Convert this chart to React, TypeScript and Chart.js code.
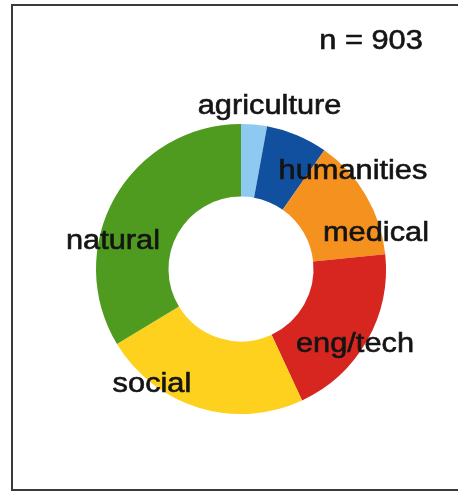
import React, { useEffect, useRef } from "react";
import { Chart, registerables } from "chart.js";

Chart.register(...registerables);

const categories = ["agriculture", "humanities", "medical", "eng/tech", "social", "natural"];
const counts = [26, 62, 123, 178, 210, 304];
const colors = ["#8ec9f1", "#11509f", "#f4911f", "#d6261f", "#fdd11d", "#4f9b1f"];

// label offsets relative to the ring centre, in units of the outer radius
const labelOffsets: [number, number][] = [
  [0.197, -1.069],
  [0.772, -0.621],
  [0.931, -0.193],
  [0.786, 0.572],
  [-0.614, 0.848],
  [-0.883, -0.138],
];

const FONT = '27px "Liberation Sans", Arial, Helvetica, sans-serif';
const XSCALE = 1.14;

function drawText(ctx: CanvasRenderingContext2D, text: string, x: number, y: number) {
  ctx.save();
  ctx.translate(x, y);
  ctx.scale(XSCALE, 1);
  ctx.fillText(text, 0, 0);
  ctx.strokeText(text, 0, 0);
  ctx.restore();
}

const labelPlugin = {
  id: "ringLabels",
  afterDraw(chart: any) {
    const ctx = chart.ctx as CanvasRenderingContext2D;
    const meta = chart.getDatasetMeta(0);
    ctx.save();
    ctx.font = FONT;
    ctx.fillStyle = "#141414";
    ctx.strokeStyle = "#141414";
    ctx.lineWidth = 0.6;
    ctx.textAlign = "center";
    ctx.textBaseline = "alphabetic";
    let cx = 0, cy = 0, R = 0;
    meta.data.forEach((arc: any, i: number) => {
      cx = arc.x; cy = arc.y; R = arc.outerRadius;
      const [dx, dy] = labelOffsets[i];
      drawText(ctx, categories[i], arc.x + dx * R, arc.y + dy * R);
    });
    const total = counts.reduce((a, b) => a + b, 0);
    drawText(ctx, `n = ${total}`, cx + 0.897 * R, cy - 1.517 * R);
    ctx.restore();
  },
};

export default function App() {
  const ref = useRef<HTMLCanvasElement>(null);
  useEffect(() => {
    document.body.style.margin = "0";
    const chart = new Chart(ref.current!, {
      type: "doughnut",
      data: {
        labels: categories,
        datasets: [
          {
            data: counts,
            backgroundColor: colors,
            borderWidth: 0,
          },
        ],
      },
      options: {
        responsive: false,
        animation: false,
        cutout: "50%",
        layout: { padding: { left: 96, right: 72, top: 124, bottom: 77 } },
        plugins: {
          legend: { display: false },
          tooltip: { enabled: false },
          title: { display: false },
        },
      },
      plugins: [labelPlugin],
    });
    return () => chart.destroy();
  }, []);
  return (
    <div style={{ position: "fixed", left: 0, top: 0, width: 458, height: 491, background: "#fff", overflow: "hidden" }}>
      <canvas ref={ref} width={458} height={491} style={{ position: "absolute", left: 0, top: 0, width: 458, height: 491 }} />
      <div
        style={{
          position: "absolute",
          left: 11,
          top: 4,
          width: 470,
          height: 487,
          boxSizing: "border-box",
          borderLeft: "2px solid #3a3a3a",
          borderTop: "2px solid #3a3a3a",
          borderBottom: "2px solid #3a3a3a",
          pointerEvents: "none",
        }}
      />
    </div>
  );
}
